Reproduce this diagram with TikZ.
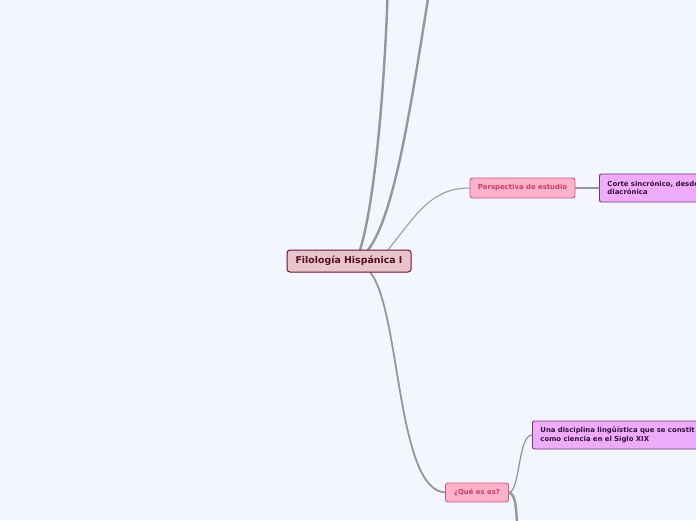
\documentclass[tikz,border=0pt]{standalone}
\usepackage{fontspec}
\setmainfont{DejaVu Sans}
\usepackage{xcolor}
\usepackage{tikz}
\usetikzlibrary{positioning, calc}
\definecolor{MapBack}{RGB}{243, 246, 254}
\definecolor{MapLine}{RGB}{150, 150, 156}
\definecolor{RootFill}{RGB}{233, 196, 204}
\definecolor{RootDraw}{RGB}{105, 20, 45}
\definecolor{RootText}{RGB}{85, 15, 35}
\definecolor{TopicFill}{RGB}{255, 178, 202}
\definecolor{TopicDraw}{RGB}{212, 86, 128}
\definecolor{TopicText}{RGB}{200, 60, 105}
\definecolor{NoteFill}{RGB}{238, 172, 250}
\definecolor{NoteDraw}{RGB}{115, 55, 125}
\definecolor{NoteText}{RGB}{55, 15, 60}

\begin{document}
\begin{tikzpicture}[x=1pt, y=-1pt,
  rootbox/.style={draw=RootDraw, fill=RootFill, text=RootText, rounded corners=3pt,
    line width=1pt, minimum width=124pt, minimum height=22pt, inner sep=0pt,
    font=\fontsize{9.4}{11}\selectfont\bfseries},
  topicbox/.style={draw=TopicDraw, fill=TopicFill, text=TopicText, rounded corners=2.5pt,
    line width=0.9pt, minimum height=20pt, inner sep=0pt,
    font=\fontsize{6.9}{8}\selectfont\bfseries},
  notebox/.style={draw=NoteDraw, fill=NoteFill, text=NoteText, rounded corners=2pt,
    line width=0.9pt, minimum height=28pt, inner xsep=8pt, inner ysep=0pt,
    anchor=west, align=left, font=\fontsize{6.9}{8.2}\selectfont\bfseries},
  link/.style={draw=MapLine, line cap=round}]
  \useasboundingbox (0,0) rectangle (696,520);
  \clip (0,0) rectangle (696,520);
  \fill[MapBack] (0,0) rectangle (696,520);

  % connectors first, nodes drawn over them
  \coordinate (rootN) at (349,250);
  \coordinate (rootS) at (349,272);
  \coordinate (upA) at (388,-20);
  \coordinate (upB) at (431,-20);
  \coordinate (down) at (518,540);
  \draw[link, line width=2.4pt] ($(rootN)+(11,0)$) .. controls (377,195) and (386,60) .. (upA);
  \draw[link, line width=2.4pt] ($(rootN)+(19,0)$) .. controls (395,215) and (411,105) .. (upB);
  \draw[link, line width=1pt] ($(rootN)+(39,0)$) .. controls (418,212) and (432,188) .. (470,188);
  \draw[link, line width=1.8pt] ($(rootS)+(21,0)$) .. controls (401,310) and (396,492) .. (446,492.5);

  % nodes
  \node[rootbox] (root) at (349,261) {Filología Hispánica I};
  \node[topicbox, minimum width=105pt] (persp) at (522.5,188) {Perspectiva de estudio};
  \node[notebox, text width=124pt] (corte) at (599,188) {Corte sincrónico, desde\\diacrónica};
  \node[topicbox, minimum width=63pt, minimum height=19pt] (quees) at (477,492.5) {¿Qué es es?};
  \node[notebox, text width=174pt] (disc) at (532,435) {Una disciplina lingüística que se constit\\como ciencia en el Siglo XIX};

  \draw[link, line width=1.2pt] (persp.east) -- (corte.west);
  \draw[link, line width=1.3pt] (quees.east) .. controls (520,492) and (518,435) .. (disc.west);
  \draw[link, line width=2.4pt] (quees.east) .. controls (516,495) and (516,505) .. (down);
\end{tikzpicture}
\end{document}
